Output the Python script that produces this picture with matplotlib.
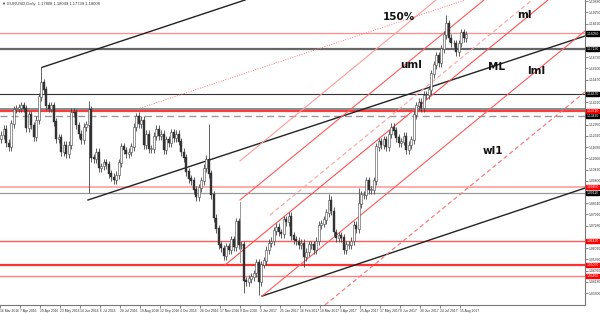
import matplotlib
matplotlib.use("Agg")
import matplotlib.pyplot as plt
import matplotlib.transforms as mtransforms
import numpy as np

# closes of 2-day candles, month by month
mar16 = [1.1235, 1.1270, 1.1190, 1.1170, 1.1300, 1.1380]
apr16 = [1.1385, 1.1390, 1.1400, 1.1385, 1.1275, 1.1350, 1.1290, 1.1225, 1.1320, 1.1450]
may16 = [1.1530, 1.1490, 1.1400, 1.1385, 1.1400, 1.1310, 1.1215, 1.1220, 1.1140, 1.1180, 1.1130]
jun16 = [1.1180, 1.1365, 1.1360, 1.1290, 1.1240, 1.1210, 1.1280, 1.1295, 1.1380, 1.1110, 1.1100]
jul16 = [1.1140, 1.1050, 1.1060, 1.1080, 1.1070, 1.1020, 1.1000, 1.0985, 1.1010, 1.1080, 1.1170]
aug16 = [1.1150, 1.1130, 1.1140, 1.1170, 1.1280, 1.1340, 1.1300, 1.1320, 1.1180, 1.1240, 1.1160]
sep16 = [1.1160, 1.1230, 1.1270, 1.1230, 1.1240, 1.1150, 1.1210, 1.1190, 1.1250, 1.1220, 1.1240]
oct16 = [1.1200, 1.1140, 1.1110, 1.1030, 1.0990, 1.0980, 1.0930, 1.0890, 1.0940, 1.0980]
nov16 = [1.1050, 1.1100, 1.1020, 1.0900, 1.0770, 1.0710, 1.0620, 1.0600, 1.0560, 1.0610, 1.0590]
dec16 = [1.0650, 1.0610, 1.0750, 1.0620, 1.0620, 1.0420, 1.0410, 1.0430, 1.0440, 1.0460, 1.0520]
jan17 = [1.0410, 1.0510, 1.0530, 1.0590, 1.0630, 1.0640, 1.0700, 1.0720, 1.0690, 1.0680, 1.0760]
feb17 = [1.0750, 1.0780, 1.0670, 1.0650, 1.0640, 1.0620, 1.0630, 1.0550, 1.0580, 1.0620]
mar17 = [1.0620, 1.0590, 1.0640, 1.0730, 1.0740, 1.0760, 1.0800, 1.0870, 1.0810, 1.0690, 1.0660]
apr17 = [1.0670, 1.0660, 1.0590, 1.0620, 1.0620, 1.0640, 1.0730, 1.0710, 1.0850, 1.0900]
may17 = [1.0900, 1.0980, 1.0930, 1.0930, 1.0980, 1.1170, 1.1200, 1.1180, 1.1210, 1.1170, 1.1240]
jun17 = [1.1280, 1.1260, 1.1220, 1.1190, 1.1200, 1.1230, 1.1150, 1.1180, 1.1210, 1.1350, 1.1400]
jul17 = [1.1420, 1.1390, 1.1460, 1.1460, 1.1490, 1.1580, 1.1630, 1.1680, 1.1640, 1.1720]
aug17 = [1.1800, 1.1860, 1.1780, 1.1750, 1.1750, 1.1700, 1.1750, 1.1810, 1.1780, 1.1800]

# extreme wicks
hi_idx = [16, 35, 55, 83, 131, 143, 178]
hi_val = [1.1616, 1.1427, 1.1366, 1.1300, 1.0906, 1.0937, 1.1910]
lo_idx = [35, 97, 103, 121]
lo_val = [1.0912, 1.0352, 1.0340, 1.0494]

date_labels = ["16 Mar 2016", "7 Apr 2016", "29 Apr 2016", "23 May 2016", "14 Jun 2016",
               "6 Jul 2016", "28 Jul 2016", "19 Aug 2016", "12 Sep 2016", "4 Oct 2016",
               "26 Oct 2016", "17 Nov 2016", "9 Dec 2016", "3 Jan 2017", "25 Jan 2017",
               "16 Feb 2017", "10 Mar 2017", "3 Apr 2017", "25 Apr 2017", "17 May 2017",
               "8 Jun 2017", "30 Jun 2017", "24 Jul 2017", "15 Aug 2017"]

# horizontal levels
red_levels = [1.1809, 1.1371, 1.0945, 1.0642, 1.0507, 1.0446]
red_colors = ["#ff8c8c", "#ff3b3b", "#ffaaaa", "#ff5a5a", "#ff3030", "#ff8080"]
red_widths = [0.9, 1.6, 1.4, 1.0, 1.6, 1.0]
gray_levels = [1.1719, 1.1467, 1.1382, 1.0911]
gray_colors = ["#666666", "#333333", "#777777", "#999999"]
gray_widths = [1.6, 0.8, 1.2, 0.9]
dashed_level = 1.1343

# price boxes on the right scale
box_prices = [1.1805, 1.1719, 1.1467, 1.1371, 1.1343, 1.0945, 1.0911, 1.0642, 1.0507, 1.0446]
box_colors = ["black", "black", "black", "red", "black", "red", "black", "red", "red", "red"]

# black pitchfork (bar index, price)
black_x0 = [33.6, 70.4, 209.6]
black_p0 = [1.1616, 1.0872, 1.0333]
black_x1 = [196, 468, 468]
black_p1 = [1.1994, 1.1792, 1.0939]

fan_x0 = 112
fan_p0 = 1.1387
fan_x1 = 372
fan_p1 = 1.1994

# red pitchfork: 150%, uml, ml, lml, wl1, mid warning line
red_x0 = [192, 192, 180, 209.6, 260, 216]
red_p0 = [1.1091, 1.0872, 1.0507, 1.0333, 1.0283, 1.0788]
red_x1 = [348.8, 387.2, 438.4, 468, 468, 425.6]
red_p1 = [1.1994, 1.1994, 1.1994, 1.1820, 1.1478, 1.1994]
red_styles = ["-", "-", "-", "-", (0, (4, 2.5)), (0, (4, 2.5))]
red_colors_tl = ["#ff9a9a", "#ff5a5a", "#ff5050", "#ff5a5a", "#ff7070", "#ffa0a0"]

# short gray handle segment
handle_x = 192
handle_p = [1.0861, 1.0524]

labels = ["150%", "ml", "uml", "ML", "lml", "wl1"]
label_x = [306, 414, 320, 390, 422, 386]
label_p = [1.1880, 1.1894, 1.1610, 1.1600, 1.1580, 1.1130]

closes = np.array(mar16 + apr16 + may16 + jun16 + jul16 + aug16 + sep16 + oct16 + nov16
                  + dec16 + jan17 + feb17 + mar17 + apr17 + may17 + jun17 + jul17 + aug17)
n = len(closes)
opens = np.concatenate([[closes[0] - 0.002], closes[:-1]])
highs = np.maximum(opens, closes) + 0.0022
lows = np.minimum(opens, closes) - 0.0022
highs[hi_idx] = hi_val
lows[lo_idx] = lo_val
xs = 2 * np.arange(n) + 1

fig = plt.figure(figsize=(6.0, 3.13), dpi=100)
ax = fig.add_axes([0.0, 8 / 313, 585 / 600, 305 / 313])
ax.set_xlim(0, 468)
ax.set_ylim(1.0283, 1.1994)

for lv, c, w in zip(red_levels, red_colors, red_widths):
    ax.axhline(lv, color=c, lw=w, zorder=1)
for lv, c, w in zip(gray_levels, gray_colors, gray_widths):
    ax.axhline(lv, color=c, lw=w, zorder=1)
ax.axhline(dashed_level, color="#999999", lw=1.0, ls=(0, (5, 3)), zorder=1)

for x0, p0, x1, p1 in zip(black_x0, black_p0, black_x1, black_p1):
    ax.plot([x0, x1], [p0, p1], color="#222222", lw=1.0, zorder=2)
for x0, p0, x1, p1, st, c in zip(red_x0, red_p0, red_x1, red_p1, red_styles, red_colors_tl):
    ax.plot([x0, x1], [p0, p1], color=c, lw=0.8, ls=st, zorder=2)
ax.plot([fan_x0, fan_x1], [fan_p0, fan_p1], color="#ff7a7a", lw=0.7, ls=(0, (1, 1.5)), zorder=2)
ax.plot([handle_x, handle_x], handle_p, color="#999999", lw=0.7, zorder=2)

# candles
up = closes >= opens
ax.vlines(xs, lows, highs, color="#444444", lw=0.6, zorder=3)
ax.bar(xs[up], (closes - opens)[up] + 0.0003, bottom=opens[up], width=1.3,
       color="white", edgecolor="#444444", lw=0.4, zorder=4)
ax.bar(xs[~up], (opens - closes)[~up] + 0.0003, bottom=closes[~up], width=1.3,
       color="#333333", edgecolor="#333333", lw=0.3, zorder=4)

for t, x, p in zip(labels, label_x, label_p):
    ax.text(x, p, t, fontsize=7.5, fontweight="bold", color="#111111", zorder=6)

# axes styling
small = dict(family="Liberation Sans", fontsize=2.4)
for s in ["top", "left"]:
    ax.spines[s].set_visible(False)
ax.spines["right"].set_color("#777777")
ax.spines["bottom"].set_color("#777777")
ax.yaxis.tick_right()
yt_all = 1.1988 - 0.0063 * np.arange(27)
# skip scale labels hidden under the price boxes
yt = [v for v in yt_all if min(abs(v - b) for b in box_prices) > 0.0028]
ax.set_yticks(yt)
ax.set_yticklabels(["%.5f" % v for v in yt], color="#333333", **small)
ax.tick_params(axis="y", length=2, width=0.5, pad=0.8, colors="#555555", labelcolor="#333333")
xt = 16 * np.arange(len(date_labels))
ax.set_xticks(xt)
ax.set_xticklabels(date_labels, color="#333333", ha="left", **small)
ax.tick_params(axis="x", length=2, width=0.5, pad=1, colors="#555555", labelcolor="#333333")

trans = mtransforms.blended_transform_factory(ax.transAxes, ax.transData)
for p, c in zip(box_prices, box_colors):
    ax.text(1.003, p, "%.5f" % p, transform=trans, color="white", va="center",
            ha="left", zorder=7, clip_on=False,
            bbox=dict(boxstyle="square,pad=0.12", fc=c, ec=c), **small)

ax.text(0.004, 0.992, "\u25bc EURUSD,Daily  1.17808 1.18049 1.17739 1.18008", transform=ax.transAxes,
        color="#333333", va="top", family=["Liberation Sans", "DejaVu Sans"], fontsize=3)

fig.savefig("out.png", dpi=100)
